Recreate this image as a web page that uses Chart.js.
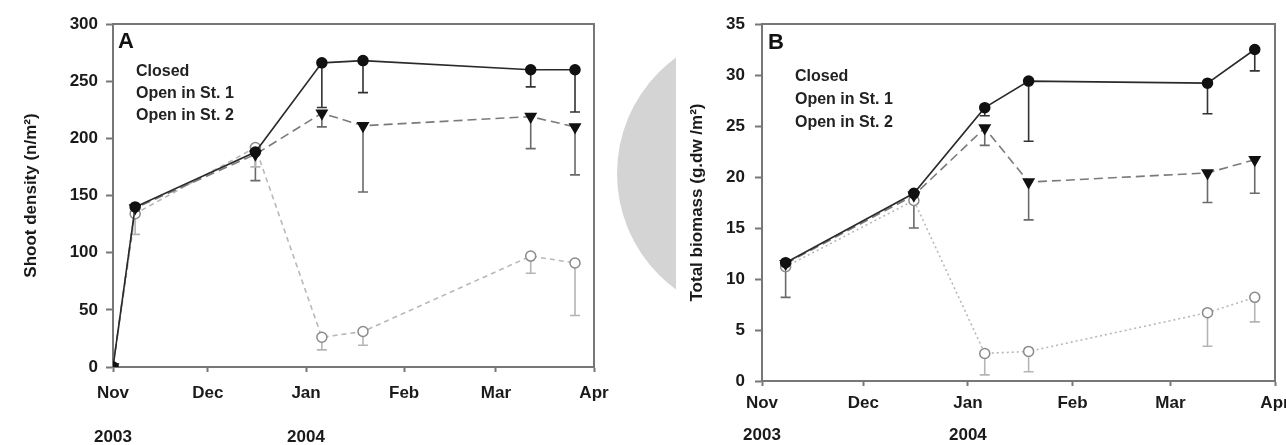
<!DOCTYPE html>
<html>
<head>
<meta charset="utf-8">
<script src="https://cdn.jsdelivr.net/npm/chart.js@4"></script>
<style>
  body { margin: 0; background: #fff; }
  #page { position: relative; width: 1286px; height: 445px; overflow: hidden; background: #fff; }
  #blob { position: absolute; left: 617px; top: 30px; width: 59px; height: 290px; overflow: hidden; }
  #blob div { width: 287px; height: 287px; border-radius: 50%; background: #d4d4d4; }
  canvas { position: absolute; top: 0; }
</style>
</head>
<body>
<div id="page">
  <div id="blob"><div></div></div>
  <canvas id="chartA" width="640" height="445" style="left:0"></canvas>
  <canvas id="chartB" width="646" height="445" style="left:640px"></canvas>
</div>
<script>
// x axis: days since 1 Nov 2003
const monthTicks = [0, 30, 61, 92, 121, 152];
const monthLabels = ['Nov', 'Dec', 'Jan', 'Feb', 'Mar', 'Apr'];
const yearLabels = ['2003', '', '2004', '', '', ''];
const seriesNames = ['Closed', 'Open in St. 1', 'Open in St. 2'];

// panel A - shoot density (n/m2), lower end of error bar in *Low
const densityDays = [0, 7, 45, 66, 79, 132, 146];
const densityClosed = [0, 140, 188, 266, 268, 260, 260];
const densityClosedLow = [null, null, null, 227, 240, 245, 223];
const densityOpen1 = [0, 139, 186, 222, 211, 219, 210];
const densityOpen1Low = [null, null, 163, 210, 153, 191, 168];
const densityOpen2 = [0, 134, 192, 26, 31, 97, 91];
const densityOpen2Low = [null, 116, 175, 15, 19, 82, 45];

// panel B - total biomass (g.dw/m2)
const biomassDays = [7, 45, 66, 79, 132, 146];
const biomassClosed = [11.6, 18.4, 26.8, 29.4, 29.2, 32.5];
const biomassClosedLow = [null, null, 26.0, 23.5, 26.2, 30.4];
const biomassOpen1 = [11.5, 18.2, 24.8, 19.5, 20.4, 21.7];
const biomassOpen1Low = [8.2, 15.0, 23.1, 15.8, 17.5, 18.4];
const biomassOpen2 = [11.2, 17.7, 2.7, 2.9, 6.7, 8.2];
const biomassOpen2Low = [null, null, 0.6, 0.9, 3.4, 5.8];

const FONT = '"Liberation Sans", Arial, sans-serif';

const looks = [
  { line: '#2a2a2a', point: 'circle', rot: 0, fill: '#111', edge: '#111', radius: 5, err: '#333' },
  { line: '#7a7a7a', point: 'triangle', rot: 180, fill: '#111', edge: '#111', radius: 6, err: '#6a6a6a' },
  { line: '#b8b8b8', point: 'circle', rot: 0, fill: '#fff', edge: '#8a8a8a', radius: 5, err: '#b5b5b5' }
];

function makeSets(days, series, lows, dashes) {
    return series.map((vals, i) => ({
        label: seriesNames[i],
        data: days.map((d, j) => ({ x: d, y: vals[j] })),
        errLow: lows[i],
        errColor: looks[i].err,
        borderColor: looks[i].line,
        borderWidth: 1.6,
        borderDash: dashes[i],
        pointStyle: looks[i].point,
        pointRotation: looks[i].rot,
        pointRadius: looks[i].radius,
        pointBackgroundColor: looks[i].fill,
        pointBorderColor: looks[i].edge,
        pointBorderWidth: 1.5,
        tension: 0
    }));
}

// one-sided (downward) error bars
const errorBars = {
    id: 'errorBars',
    beforeDatasetsDraw(chart) {
        const ctx = chart.ctx;
        const yScale = chart.scales.y;
        chart.data.datasets.forEach((ds, i) => {
            const meta = chart.getDatasetMeta(i);
            ctx.save();
            ctx.strokeStyle = ds.errColor;
            ctx.lineWidth = 1.6;
            meta.data.forEach((pt, j) => {
                const low = ds.errLow[j];
                if (low == null) return;
                const y2 = yScale.getPixelForValue(low);
                ctx.beginPath();
                ctx.moveTo(pt.x, pt.y);
                ctx.lineTo(pt.x, y2);
                ctx.moveTo(pt.x - 5, y2);
                ctx.lineTo(pt.x + 5, y2);
                ctx.stroke();
            });
            ctx.restore();
        });
    }
};

// frame, panel letter and the series names in the corner
const panelDecor = {
    id: 'panelDecor',
    beforeDatasetsDraw(chart) {
        const { ctx, chartArea: a } = chart;
        ctx.save();
        ctx.strokeStyle = '#777';
        ctx.lineWidth = 2;
        ctx.strokeRect(a.left, a.top, a.right - a.left, a.bottom - a.top);
        ctx.restore();
    },
    afterDraw(chart, args, opts) {
        const { ctx, chartArea: a } = chart;
        ctx.save();
        ctx.fillStyle = '#111';
        ctx.textBaseline = 'middle';
        ctx.font = 'bold 22px ' + FONT;
        ctx.fillText(opts.letter, a.left + opts.letterDx, a.top + opts.letterDy);
        ctx.font = 'bold 16px ' + FONT;
        ctx.fillStyle = '#222';
        chart.data.datasets.forEach((ds, i) => {
            ctx.fillText(ds.label, a.left + opts.textDx, a.top + opts.textDy + i * opts.gap);
        });
        ctx.restore();
    }
};

function xAxis(lineHeight, pad, height) {
    return {
        type: 'linear',
        min: 0,
        max: 152,
        border: { color: '#777', width: 2 },
        grid: { drawOnChartArea: false, tickLength: 5, tickColor: '#777', tickWidth: 2 },
        ticks: {
            autoSkip: false,
            maxRotation: 0,
            padding: pad,
            color: '#1a1a1a',
            font: { family: FONT, size: 17, weight: 'bold', lineHeight: lineHeight },
            callback: (v, i) => yearLabels[i] ? [monthLabels[i], yearLabels[i]] : monthLabels[i]
        },
        afterBuildTicks: s => { s.ticks = monthTicks.map(v => ({ value: v })); },
        afterFit: s => { s.height = height; s.paddingLeft = 0; s.paddingRight = 0; }
    };
}

function yAxis(max, step, title, titlePad, pad, width) {
    return {
        min: 0,
        max: max,
        border: { color: '#777', width: 2 },
        grid: { drawOnChartArea: false, tickLength: 7, tickColor: '#777', tickWidth: 2 },
        ticks: {
            stepSize: step,
            padding: pad,
            color: '#1a1a1a',
            font: { family: FONT, size: 17, weight: 'bold' }
        },
        title: {
            display: true,
            text: title,
            color: '#1a1a1a',
            font: { family: FONT, size: 17, weight: 'bold' },
            padding: { top: titlePad, bottom: 0 }
        },
        afterFit: s => { s.width = width; s.paddingTop = 0; s.paddingBottom = 0; }
    };
}

new Chart(document.getElementById('chartA'), {
    type: 'line',
    data: {
        datasets: makeSets(densityDays,
            [densityClosed, densityOpen1, densityOpen2],
            [densityClosedLow, densityOpen1Low, densityOpen2Low],
            [[], [9, 5], [5, 4]])
    },
    options: {
        responsive: false,
        animation: false,
        devicePixelRatio: 1,
        layout: { padding: { left: 0, top: 24, right: 46, bottom: 0 } },
        scales: {
            x: xAxis(2.6, -1, 78),
            y: yAxis(300, 50, 'Shoot density (n/m²)', 21, 8, 113)
        },
        plugins: {
            legend: { display: false },
            tooltip: { enabled: false },
            panelDecor: { letter: 'A', letterDx: 5, letterDy: 18, textDx: 23, textDy: 48, gap: 22 }
        }
    },
    plugins: [errorBars, panelDecor]
});

new Chart(document.getElementById('chartB'), {
    type: 'line',
    data: {
        datasets: makeSets(biomassDays,
            [biomassClosed, biomassOpen1, biomassOpen2],
            [biomassClosedLow, biomassOpen1Low, biomassOpen2Low],
            [[], [9, 5], [2, 3]])
    },
    options: {
        responsive: false,
        animation: false,
        devicePixelRatio: 1,
        layout: { padding: { left: 0, top: 24, right: 11, bottom: 0 } },
        scales: {
            x: xAxis(1.85, 2, 64),
            y: yAxis(35, 5, 'Total biomass (g.dw /m²)', 47, 10, 122)
        },
        plugins: {
            legend: { display: false },
            tooltip: { enabled: false },
            panelDecor: { letter: 'B', letterDx: 6, letterDy: 19, textDx: 33, textDy: 53, gap: 23 }
        }
    },
    plugins: [errorBars, panelDecor]
});
</script>
</body>
</html>
